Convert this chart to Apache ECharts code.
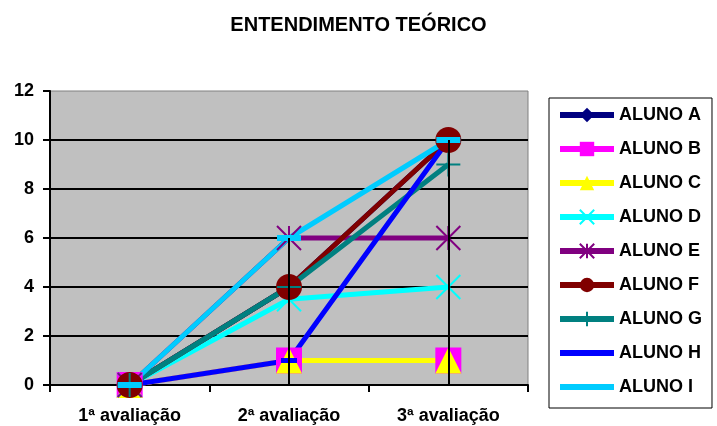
<!DOCTYPE html>
<html>
<head>
<meta charset="utf-8">
<script src="https://cdn.jsdelivr.net/npm/echarts@6/dist/echarts.min.js"></script>
<style>
  html, body { margin: 0; padding: 0; background: #fff; }
  #chart { width: 717px; height: 426px; }
</style>
</head>
<body>
<div id="chart"></div>
<script>
const categories = ['1ª avaliação', '2ª avaliação', '3ª avaliação']
const yTicks = [0, 2, 4, 6, 8, 10, 12]

const alunoA = [0, 4, 10]
const alunoB = [0, 1, 1]
const alunoC = [0, 1, 1]
const alunoD = [0, 3.5, 4]
const alunoE = [0, 6, 6]
const alunoF = [0, 4, 10]
const alunoG = [0, 4, 9]
const alunoH = [0, 1, 10]
const alunoI = [0, 6, 10]

const font = 'Arial, "Liberation Sans", sans-serif'

// marker shapes (Excel style)
const xPath = 'path://M0,0L10,10M10,0L0,10'
const starPath = 'path://M0,0L10,10M10,0L0,10M5,0L5,10'
const plusPath = 'path://M5,0L5,10M0,5L10,5'
const dashPath = 'path://M0,0L10,0L10,2L0,2Z'

const students = [
  { name: 'ALUNO A', data: alunoA, color: '#000080', symbol: 'diamond', size: 14 },
  { name: 'ALUNO B', data: alunoB, color: '#FF00FF', symbol: 'rect', size: 26 },
  { name: 'ALUNO C', data: alunoC, color: '#FFFF00', symbol: 'triangle', size: 26 },
  { name: 'ALUNO D', data: alunoD, color: '#00FFFF', symbol: xPath, size: 24, stroke: true },
  { name: 'ALUNO E', data: alunoE, color: '#800080', symbol: starPath, size: 24, stroke: true },
  { name: 'ALUNO F', data: alunoF, color: '#800000', symbol: 'circle', size: 26 },
  { name: 'ALUNO G', data: alunoG, color: '#008080', symbol: plusPath, size: 24, stroke: true },
  { name: 'ALUNO H', data: alunoH, color: '#0000FF', symbol: dashPath, size: [16, 5], noLegendMark: true },
  { name: 'ALUNO I', data: alunoI, color: '#00CCFF', symbol: dashPath, size: [24, 6], noLegendMark: true }
]

// drop lines: from the highest point of each category down to the axis
const dropLines = categories.map((c, i) => {
  const top = Math.max(...students.map(s => s.data[i]))
  return [{ coord: [c, top] }, { coord: [c, 0] }]
})

const chart = echarts.init(document.getElementById('chart'))

const option = {
  animation: false,
  backgroundColor: '#fff',
  textStyle: { fontFamily: font },
  title: {
    text: 'ENTENDIMENTO TEÓRICO',
    left: 'center',
    top: 10,
    textStyle: { fontFamily: font, fontSize: 20, fontWeight: 'bold', color: '#000' }
  },
  legend: {
    orient: 'vertical',
    left: 549,
    top: 98,
    padding: [8, 10, 12, 8],
    itemWidth: 54,
    itemHeight: 18,
    itemGap: 16,
    backgroundColor: '#fff',
    borderColor: '#000',
    borderWidth: 1,
    borderRadius: 0,
    lineStyle: { width: 6 },
    data: students.map(s => s.noLegendMark
      ? { name: s.name, itemStyle: { opacity: 0 } }
      : { name: s.name }),
    textStyle: { fontFamily: font, fontSize: 18, fontWeight: 'bold', color: '#000' }
  },
  grid: {
    left: 50,
    right: 189,
    top: 91,
    bottom: 41,
    show: true,
    backgroundColor: '#C0C0C0',
    borderColor: '#808080',
    borderWidth: 1
  },
  xAxis: {
    type: 'category',
    data: categories,
    boundaryGap: true,
    axisLine: { lineStyle: { color: '#000', width: 2 } },
    axisTick: { show: true, length: 7, lineStyle: { color: '#000', width: 2 } },
    axisLabel: {
      margin: 22,
      fontFamily: font,
      fontSize: 18,
      fontWeight: 'bold',
      color: '#000'
    },
    splitLine: { show: false }
  },
  yAxis: {
    type: 'value',
    min: yTicks[0],
    max: yTicks[yTicks.length - 1],
    interval: yTicks[1] - yTicks[0],
    axisLine: { show: true, lineStyle: { color: '#000', width: 2 } },
    axisTick: { show: true, length: 7, lineStyle: { color: '#000', width: 2 } },
    axisLabel: {
      margin: 16,
      fontFamily: font,
      fontSize: 18,
      fontWeight: 'bold',
      color: '#000'
    },
    splitLine: { show: true, showMaxLine: false, lineStyle: { color: '#000', width: 2 } }
  },
  series: [
    {
      name: 'drop',
      type: 'line',
      data: [],
      z: 1,
      silent: true,
      markLine: {
        silent: true,
        symbol: 'none',
        label: { show: false },
        lineStyle: { color: '#000', width: 2, type: 'solid' },
        data: dropLines
      }
    }
  ].concat(students.map(s => ({
    name: s.name,
    type: 'line',
    data: s.data,
    symbol: s.symbol,
    symbolSize: s.size,
    showSymbol: true,
    lineStyle: { color: s.color, width: 5 },
    itemStyle: s.stroke
      ? { color: 'rgba(0,0,0,0)', borderColor: s.color, borderWidth: 2 }
      : { color: s.color },
    emphasis: { disabled: true }
  })))
}

chart.setOption(option)
</script>
</body>
</html>
